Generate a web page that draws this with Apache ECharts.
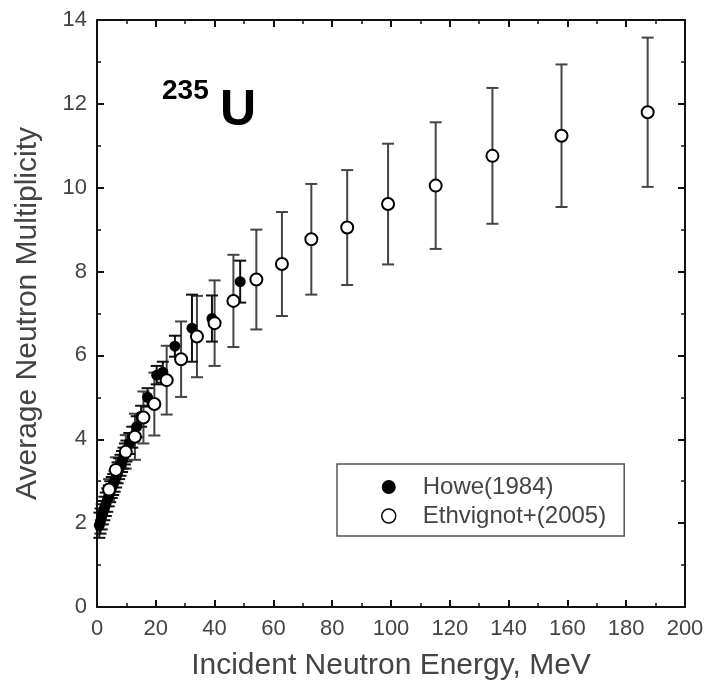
<!DOCTYPE html>
<html>
<head>
    <meta charset="UTF-8">
    <title>235U neutron multiplicity</title>
    <style>
        html, body { margin: 0; padding: 0; background: #fff; }
        #chart { width: 710px; height: 694px; }
    </style>
    <script src="https://cdn.jsdelivr.net/npm/echarts@6/dist/echarts.min.js"></script>
</head>
<body>
<div id="chart"></div>
<script>
    // Howe(1984), filled circles
    var howeEnergy = [0.8, 1.2, 1.6, 2.0, 2.5, 3.0, 3.5, 4.0, 4.5, 5.0, 5.5, 6.0, 6.5, 7.0, 7.5, 8.0, 8.5, 9.0, 9.5, 10.0, 11.0, 12.0, 13.5, 15.0, 17.2, 20.3, 22.4, 26.5, 32.3, 39.1, 48.7];
    var howeValue  = [1.95, 2.05, 2.15, 2.25, 2.35, 2.45, 2.55, 2.65, 2.75, 2.85, 2.92, 3.00, 3.10, 3.20, 3.30, 3.38, 3.47, 3.55, 3.65, 3.72, 3.90, 4.05, 4.30, 4.55, 5.00, 5.53, 5.60, 6.22, 6.65, 6.88, 7.76];
    var howeError  = [0.30, 0.30, 0.30, 0.28, 0.28, 0.28, 0.28, 0.25, 0.25, 0.25, 0.25, 0.25, 0.25, 0.25, 0.25, 0.25, 0.25, 0.25, 0.25, 0.25, 0.25, 0.25, 0.25, 0.25, 0.22, 0.22, 0.25, 0.25, 0.80, 0.55, 0.50];

    // Ethvignot+(2005), open circles
    var ethEnergy = [4.1, 6.4, 9.8, 12.9, 15.8, 19.5, 23.7, 28.6, 34.0, 40.0, 46.4, 54.2, 62.9, 72.9, 85.1, 99.0, 115.2, 134.5, 158.0, 187.3];
    var ethValue  = [2.80, 3.27, 3.70, 4.06, 4.52, 4.84, 5.41, 5.91, 6.45, 6.77, 7.30, 7.81, 8.18, 8.77, 9.05, 9.61, 10.05, 10.76, 11.24, 11.80];
    var ethError  = [0.25, 0.30, 0.40, 0.55, 0.62, 0.75, 0.82, 0.90, 0.97, 1.02, 1.10, 1.19, 1.24, 1.32, 1.37, 1.44, 1.51, 1.62, 1.70, 1.78];

    var xTicks = [0, 20, 40, 60, 80, 100, 120, 140, 160, 180, 200];
    var yTicks = [0, 2, 4, 6, 8, 10, 12, 14];

    function zip(xs, ys, es) {
        var out = [];
        for (var i = 0; i < xs.length; i++) {
            out.push([xs[i], ys[i], es ? es[i] : 0]);
        }
        return out;
    }

    function errorBars(color) {
        return function (params, api) {
            var x = api.value(0), y = api.value(1), e = api.value(2);
            var top = api.coord([x, y + e]);
            var bot = api.coord([x, y - e]);
            var w = 6;
            var style = { stroke: color, lineWidth: 2 };
            return {
                type: 'group',
                children: [
                    { type: 'line', shape: { x1: top[0], y1: top[1], x2: bot[0], y2: bot[1] }, style: style },
                    { type: 'line', shape: { x1: top[0] - w, y1: top[1], x2: top[0] + w, y2: top[1] }, style: style },
                    { type: 'line', shape: { x1: bot[0] - w, y1: bot[1], x2: bot[0] + w, y2: bot[1] }, style: style }
                ]
            };
        };
    }

    var font = 'Liberation Sans, Arial, sans-serif';
    var textColor = '#444';

    var baseX = {
        type: 'value', min: xTicks[0], max: xTicks[xTicks.length - 1], interval: 20,
        axisLine: { onZero: false, lineStyle: { color: '#111', width: 2 } },
        axisTick: { inside: true, length: 7, lineStyle: { color: '#111', width: 2 } },
        minorTick: { show: true, splitNumber: 2, length: 4, lineStyle: { color: '#111', width: 1.5 } },
        splitLine: { show: false }
    };
    var baseY = {
        type: 'value', min: yTicks[0], max: yTicks[yTicks.length - 1], interval: 2,
        axisLine: { onZero: false, lineStyle: { color: '#111', width: 2 } },
        axisTick: { inside: true, length: 7, lineStyle: { color: '#111', width: 2 } },
        minorTick: { show: true, splitNumber: 2, length: 4, lineStyle: { color: '#111', width: 1.5 } },
        splitLine: { show: false }
    };

    var chart = echarts.init(document.getElementById('chart'));
    var option = {
        backgroundColor: '#fff',
        animation: false,
        textStyle: { fontFamily: font },
        grid: { left: 97, right: 25, top: 20, bottom: 87 },
        legend: {
            orient: 'vertical',
            left: 337, top: 464,
            padding: [11, 18, 8, 44],
            itemGap: 5,
            itemWidth: 14, itemHeight: 14,
            borderColor: '#555', borderWidth: 1.5,
            textStyle: { fontSize: 24, color: textColor, padding: [0, 0, 0, 22] },
            data: [
                { name: 'Howe(1984)', icon: 'circle', itemStyle: { color: '#000' } },
                { name: 'Ethvignot+(2005)', icon: 'circle', itemStyle: { color: '#fff', borderColor: '#000', borderWidth: 1.5 } }
            ]
        },
        xAxis: [
            Object.assign({}, baseX, {
                position: 'bottom',
                name: 'Incident Neutron Energy, MeV',
                nameLocation: 'middle', nameGap: 44,
                nameTextStyle: { fontSize: 30, color: textColor },
                axisLabel: { fontSize: 22, color: textColor, margin: 11 }
            }),
            Object.assign({}, baseX, { position: 'top', axisLabel: { show: false } })
        ],
        yAxis: [
            Object.assign({}, baseY, {
                position: 'left',
                name: 'Average Neutron Multiplicity',
                nameLocation: 'middle', nameGap: 54,
                nameTextStyle: { fontSize: 30, color: textColor },
                axisLabel: { fontSize: 22, color: textColor, margin: 10 }
            }),
            Object.assign({}, baseY, { position: 'right', axisLabel: { show: false } })
        ],
        graphic: [
            { type: 'text', left: 162, top: 77, style: { text: '235', font: 'bold 28px ' + font, fill: '#000' } },
            { type: 'text', left: 220, top: 86, style: { text: 'U', font: 'bold 50px ' + font, fill: '#000' } }
        ],
        series: [
            {
                name: 'Ethvignot+(2005) err', type: 'custom',
                renderItem: errorBars('#444'),
                data: zip(ethEnergy, ethValue, ethError), z: 2
            },
            {
                name: 'Howe(1984) err', type: 'custom',
                renderItem: errorBars('#111'),
                data: zip(howeEnergy, howeValue, howeError), z: 3
            },
            {
                name: 'Howe(1984)', type: 'scatter', symbol: 'circle', symbolSize: 11,
                itemStyle: { color: '#000', opacity: 1 },
                data: zip(howeEnergy, howeValue), z: 4
            },
            {
                name: 'Ethvignot+(2005)', type: 'scatter', symbol: 'circle', symbolSize: 12,
                itemStyle: { color: '#fff', borderColor: '#000', borderWidth: 2, opacity: 1 },
                data: zip(ethEnergy, ethValue), z: 5
            }
        ]
    };
    chart.setOption(option);
</script>
</body>
</html>
